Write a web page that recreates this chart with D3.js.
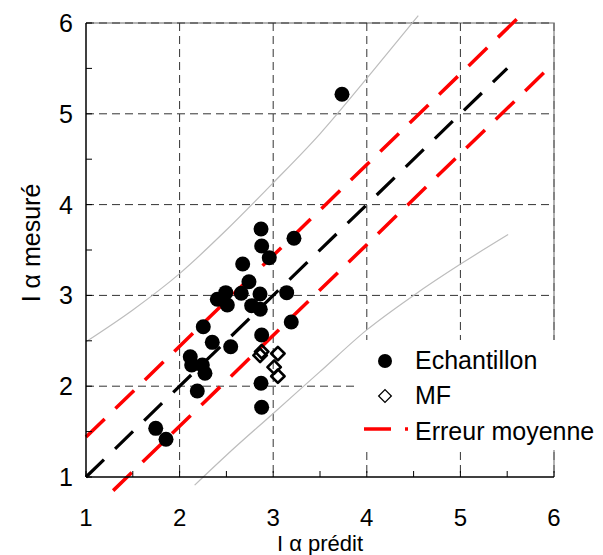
<!DOCTYPE html>
<html><head><meta charset="utf-8">
<script src="https://cdn.jsdelivr.net/npm/d3@7"></script>
<style>
body{margin:0;background:#fff;}
text{font-family:"Liberation Sans",Arial,sans-serif;fill:#000;}
</style></head>
<body><svg id="c" width="603" height="555"></svg>
<script>
// ---- data ----
const echantillonX = [2.870,2.877,2.958,3.222,2.674,2.741,2.493,2.403,2.510,2.659,2.859,2.770,2.862,3.144,3.193,2.253,2.349,2.546,2.114,2.129,2.243,2.271,2.189,2.877,2.870,2.877,1.745,1.855,3.735];
const echantillonY = [3.731,3.544,3.415,3.629,3.346,3.151,3.030,2.957,2.894,3.023,3.015,2.887,2.847,3.030,2.707,2.655,2.483,2.435,2.325,2.233,2.233,2.142,1.947,2.564,2.032,1.768,1.536,1.415,5.215];
const mfX = [2.877,2.860,3.050,3.010,3.050];
const mfY = [2.380,2.340,2.360,2.210,2.110];
const oneToOneX = [1,5.5], oneToOneY = [1,5.5];
const errUpX = [1,5.65], errUpY = [1.44,6.09];
const errLoX = [1.29,5.96], errLoY = [0.85,5.52];
const bandUpX = [1,1.5,2,2.5,3,3.5,4,4.55];
const bandUpY = [2.49,2.84,3.24,3.72,4.24,4.78,5.39,6.08];
const bandLoX = [2.16,2.5,3,3.5,4,4.5,5.01,5.51];
const bandLoY = [0.91,1.24,1.70,2.16,2.62,3.00,3.35,3.67];
const ticks = [1,2,3,4,5,6];
const minorTicks = [1.5,2.5,3.5,4.5,5.5];
const legendLabels = ["Echantillon","MF","Erreur moyenne"];
const xTitle = "I α prédit", yTitle = "I α mesuré";

// ---- layout ----
const L=86,R=554,T=23,B=477;
const FS=25;
const svg=d3.select("#c");
const x=d3.scaleLinear().domain([1,6]).range([L,R]);
const y=d3.scaleLinear().domain([1,6]).range([B,T]);
const line=d3.line().x(d=>x(d[0])).y(d=>y(d[1]));
const zip=(a,b)=>a.map((v,i)=>[v,b[i]]);

// border (top/right grey)
svg.append("path").attr("d",`M${L},${T}H${R}V${B}`).attr("fill","none").attr("stroke","#9a9a9a").attr("stroke-width",1.5);
// grid
const g=svg.append("g");
ticks.slice(1,5).forEach(t=>{
  g.append("line").attr("x1",x(t)).attr("x2",x(t)).attr("y1",T).attr("y2",B).attr("stroke","#333").attr("stroke-dasharray","8,5");
});
ticks.slice(1).forEach(t=>{
  g.append("line").attr("x1",L).attr("x2",R).attr("y1",y(t)).attr("y2",y(t)).attr("stroke","#333").attr("stroke-dasharray","8,5");
});
g.append("line").attr("x1",R).attr("x2",R).attr("y1",T).attr("y2",B).attr("stroke","#555").attr("stroke-dasharray","8,5");

// bands
svg.append("path").attr("d",line.curve(d3.curveMonotoneX)(zip(bandUpX,bandUpY))).attr("fill","none").attr("stroke","#bdbdbd").attr("stroke-width",1.2);
svg.append("path").attr("d",line.curve(d3.curveMonotoneX)(zip(bandLoX,bandLoY))).attr("fill","none").attr("stroke","#bdbdbd").attr("stroke-width",1.2);
line.curve(d3.curveLinear);
// error lines
[[errUpX,errUpY],[errLoX,errLoY]].forEach(([a,b])=>{
  svg.append("path").attr("d",line(zip(a,b))).attr("fill","none").attr("stroke","#ff0000").attr("stroke-width",3.5).attr("stroke-dasharray","26,15");
});
svg.append("path").attr("d",line(zip(oneToOneX,oneToOneY))).attr("fill","none").attr("stroke","#000").attr("stroke-width",3.2).attr("stroke-dasharray","25,15.5");

// points
svg.append("g").selectAll("circle").data(zip(echantillonX,echantillonY)).join("circle")
  .attr("cx",d=>x(d[0])).attr("cy",d=>y(d[1])).attr("r",7.5).attr("fill","#000");
const dia=d3.symbol().type(d3.symbolSquare).size(90);
svg.append("g").selectAll("path").data(zip(mfX,mfY)).join("path")
  .attr("d",dia).attr("transform",d=>`translate(${x(d[0])},${y(d[1])}) rotate(45)`)
  .attr("fill","none").attr("stroke","#000").attr("stroke-width",2.6).attr("stroke-linejoin","round");

// axes
svg.append("line").attr("x1",L).attr("x2",L).attr("y1",T).attr("y2",B).attr("stroke","#000").attr("stroke-width",1.5);
svg.append("line").attr("x1",L).attr("x2",R).attr("y1",B).attr("y2",B).attr("stroke","#000").attr("stroke-width",1.5);
ticks.concat(minorTicks).forEach(t=>{
  svg.append("line").attr("x1",x(t)).attr("x2",x(t)).attr("y1",B).attr("y2",B-6).attr("stroke","#000");
  svg.append("line").attr("x1",L).attr("x2",L+6).attr("y1",y(t)).attr("y2",y(t)).attr("stroke","#000");
});
ticks.forEach(t=>{
  svg.append("text").attr("x",x(t)).attr("y",525.5).attr("text-anchor","middle").attr("font-size",24).text(t);
  svg.append("text").attr("x",73).attr("y",y(t)+9).attr("text-anchor","end").attr("font-size",FS).text(t);
});
svg.append("text").attr("x",(L+R)/2).attr("y",550.5).attr("text-anchor","middle").attr("font-size",22).text(xTitle);
svg.append("text").attr("transform","translate(40,243) rotate(-90)").attr("text-anchor","middle").attr("font-size",FS).text(yTitle);

// legend
const lg=svg.append("g");
lg.append("rect").attr("x",357).attr("y",340).attr("width",246).attr("height",110).attr("fill","#fff");
lg.append("circle").attr("cx",385).attr("cy",361).attr("r",7).attr("fill","#000");
lg.append("path").attr("d",d3.symbol().type(d3.symbolSquare).size(80)).attr("transform","translate(385,396) rotate(45)").attr("fill","none").attr("stroke","#000").attr("stroke-width",1.3);
lg.append("line").attr("x1",364).attr("x2",408).attr("y1",429).attr("y2",429).attr("stroke","#ff0000").attr("stroke-width",3.5).attr("stroke-dasharray","27,14");
legendLabels.forEach((s,i)=>{
  lg.append("text").attr("x",415).attr("y",[369,404,439.5][i]).attr("font-size",FS).text(s);
});
</script></body></html>
